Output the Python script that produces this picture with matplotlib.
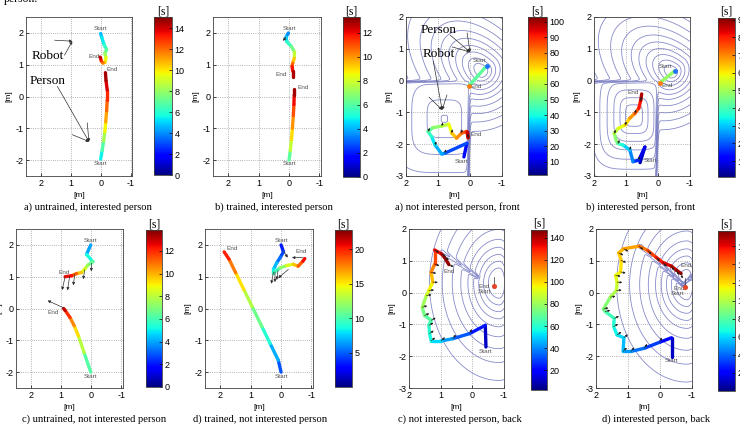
"""
Robot and person trajectories from the approach experiments, coloured by time.

Left block: the learned approach behaviour (untrained vs. trained) for an
interested and a not interested person. Right block: the same scenario seen
from the front and from the back, with the social cost field drawn as contours.
"""

import matplotlib.pyplot as plt
import numpy as np
from matplotlib.cm import ScalarMappable
from matplotlib.collections import LineCollection
from matplotlib.colors import Normalize

plt.rcParams.update({
    "font.family": "sans-serif",
    "font.sans-serif": ["Liberation Sans", "DejaVu Sans"],
    "font.serif": ["Liberation Serif", "DejaVu Serif"],
    "font.size": 6.5,
    "axes.unicode_minus": False,
    "axes.linewidth": 0.6,
    "axes.edgecolor": "#404040",
    "xtick.direction": "in",
    "ytick.direction": "in",
    "xtick.major.size": 2,
    "ytick.major.size": 2,
    "xtick.major.width": 0.5,
    "ytick.major.width": 0.5,
    "xtick.labelsize": 6.5,
    "ytick.labelsize": 6.5,
})

FIG_W, FIG_H = 740, 426

# ---- a) untrained, interested person
UI_ROBOT_X = [0.00, -0.04, -0.12, -0.20, -0.14, -0.18, -0.15, -0.08, -0.02, 0.00, 0.02]
UI_ROBOT_Y = [1.98, 1.85, 1.62, 1.48, 1.35, 1.22, 1.08, 1.05, 1.12, 1.20, 1.24]
UI_ROBOT_T = [4.5, 5.0, 5.8, 6.5, 7.5, 9.0, 10.0, 11.0, 12.5, 13.5, 14.5]
UI_PERSON_X = [0.00, -0.05, -0.10, -0.14, -0.17, -0.20, -0.22, -0.22, -0.18, -0.16]
UI_PERSON_Y = [-1.97, -1.70, -1.40, -1.10, -0.80, -0.45, -0.10, 0.20, 0.50, 0.75]
UI_PERSON_T = [5.0, 6.0, 7.5, 9.0, 10.5, 11.5, 12.5, 13.5, 14.2, 14.8]

# ---- b) trained, interested person
TI_ROBOT_X = [0.02, 0.10, 0.07, -0.08, -0.18, -0.17, -0.12, -0.10, -0.12, -0.12]
TI_ROBOT_Y = [2.00, 1.87, 1.72, 1.57, 1.40, 1.20, 1.05, 0.95, 0.80, 0.62]
TI_ROBOT_T = [3.0, 4.0, 5.0, 6.0, 7.0, 8.5, 10.0, 11.0, 12.5, 13.0]
TI_PERSON_X = [0.00, -0.04, -0.08, -0.11, -0.14, -0.16, -0.17, -0.17]
TI_PERSON_Y = [-2.00, -1.70, -1.35, -1.00, -0.60, -0.25, 0.05, 0.25]
TI_PERSON_T = [5.2, 7.0, 8.5, 9.5, 10.5, 11.5, 12.5, 13.2]

# ---- c) untrained, not interested person
UN_ROBOT_X = [0.02, 0.16, -0.05, 0.11, 0.20, 0.33, 0.49, 0.65, 0.87]
UN_ROBOT_Y = [2.00, 1.70, 1.47, 1.37, 1.26, 1.13, 1.10, 1.03, 1.00]
UN_ROBOT_T = [3.5, 4.5, 6.0, 7.0, 8.0, 9.0, 10.5, 11.8, 13.0]
UN_PERSON_X = [0.02, 0.24, 0.43, 0.57, 0.71, 0.87, 0.92]
UN_PERSON_Y = [-2.00, -1.39, -0.86, -0.54, -0.28, -0.06, 0.00]
UN_PERSON_T = [5.5, 7.0, 8.8, 10.0, 11.3, 12.5, 13.5]
UN_ARROW_X = [0.87, 0.72, 0.55, 0.22, 0.00, 0.92]
UN_ARROW_Y = [1.00, 1.02, 1.08, 1.22, 1.42, 0.02]
UN_ARROW_DX = [0.10, 0.07, 0.05, 0.05, 0.00, 0.53]
UN_ARROW_DY = [-0.42, -0.45, -0.35, -0.30, -0.25, 0.23]

# ---- d) trained, not interested person
TN_ROBOT_X = [0.00, -0.08, 0.03, 0.14, 0.25, 0.25, 0.03, -0.18, -0.40, -0.56, -0.72, -0.78]
TN_ROBOT_Y = [2.00, 1.78, 1.60, 1.44, 1.23, 1.12, 1.28, 1.35, 1.39, 1.33, 1.49, 1.57]
TN_ROBOT_T = [3.0, 4.0, 5.0, 6.0, 8.0, 8.5, 11.0, 13.0, 15.0, 17.0, 20.0, 21.0]
TN_PERSON_X = [0.00, 0.09, 0.36, 0.63, 0.95, 1.22, 1.49, 1.71, 1.87]
TN_PERSON_Y = [-2.00, -1.63, -1.10, -0.57, 0.06, 0.59, 1.12, 1.55, 1.78]
TN_PERSON_T = [4.0, 5.5, 8.0, 10.0, 12.0, 14.0, 16.5, 19.0, 21.0]
TN_ARROW_X = [0.25, 0.20, 0.10, -0.24, -0.72, -0.08]
TN_ARROW_Y = [1.15, 1.15, 1.20, 1.23, 1.60, 1.81]
TN_ARROW_DX = [0.07, 0.00, 0.04, 0.33, 0.36, -0.14]
TN_ARROW_DY = [-0.37, -0.32, -0.30, -0.27, 0.00, -0.21]

# ---- a) not interested person, front
NF_ROBOT_X = [0.19, 0.10, 0.78, 0.88, 1.09, 1.20, 1.31, 1.16, 0.88, 0.66, 0.57, 0.42, 0.26, 0.10, 0.06, 0.07]
NF_ROBOT_Y = [-2.40, -1.97, -2.28, -2.31, -2.03, -1.76, -1.60, -1.48, -1.43, -1.37, -1.65, -1.81, -1.65, -1.60, -1.80, -1.63]
NF_ROBOT_T = [12, 18, 25, 28, 35, 40, 45, 52, 57, 63, 70, 75, 82, 88, 95, 100]
NF_PERSON_X = [-0.52, 0.04]
NF_PERSON_Y = [0.46, -0.17]
NF_PERSON_T = [42, 55]

# ---- b) interested person, front
IF_ROBOT_X = [0.56, 0.41, 0.60, 0.78, 0.88, 1.09, 1.25, 1.30, 1.37, 1.24, 1.03, 0.88, 0.72, 0.60, 0.54, 0.51]
IF_ROBOT_Y = [-2.58, -2.09, -2.50, -2.55, -2.18, -2.03, -1.98, -1.90, -1.66, -1.50, -1.40, -1.18, -1.03, -0.87, -0.62, -0.42]
IF_ROBOT_T = [3, 8, 12, 20, 28, 33, 40, 45, 50, 55, 60, 65, 72, 78, 84, 90]
IF_PERSON_X = [-0.53, -0.06]
IF_PERSON_Y = [0.31, -0.07]
IF_PERSON_T = [45, 52]

# ---- c) not interested person, back
NB_ROBOT_X = [-0.43, -0.41, 0.09, 0.62, 0.98, 1.30, 1.35, 1.37, 1.30, 1.51, 1.58, 1.45, 1.37, 1.25, 1.30, 1.19, 1.19, 0.98, 0.88, 0.74]
NB_ROBOT_Y = [-1.71, -1.03, -1.29, -1.45, -1.52, -1.52, -1.29, -1.03, -0.87, -0.72, -0.46, -0.09, 0.07, 0.33, 0.64, 0.90, 1.34, 1.22, 1.11, 0.88]
NB_ROBOT_T = [3, 18, 28, 38, 47, 55, 58, 62, 66, 70, 76, 86, 92, 100, 110, 118, 128, 136, 141, 146]
NB_PERSON = (-0.69, 0.22)

# ---- d) interested person, back
IB_ROBOT_X = [-0.36, -0.36, 0.01, 0.49, 0.91, 1.15, 1.13, 1.34, 1.45, 1.43, 1.71, 1.77, 1.55, 1.36, 1.34,
              1.39, 1.23, 1.21, 1.29, 1.13, 0.65, 0.38, 0.12, -0.10, -0.36, -0.52, -0.66]
IB_ROBOT_Y = [-2.01, -1.42, -1.56, -1.75, -1.85, -1.85, -1.42, -1.33, -1.07, -0.81, -0.60, -0.52, -0.14, 0.07, 0.33,
              0.54, 0.65, 1.01, 1.25, 1.38, 1.46, 1.32, 1.11, 0.94, 0.83, 0.70, 0.60]
IB_ROBOT_T = [3, 18, 28, 38, 46, 52, 58, 62, 67, 72, 80, 85, 95, 102, 108,
              112, 116, 120, 125, 128, 133, 145, 152, 160, 166, 170, 174]
IB_PERSON = (-0.77, 0.18)

# social cost field (contours) for the front/back views
FRONT_LEVELS = [0.3, 0.5, 0.72, 0.96, 1.22, 1.5, 1.85, 2.25, 2.7, 3.2]
BACK_LEVELS = [0.38, 0.55, 0.72, 0.9, 1.1, 1.35, 1.65, 2.0, 2.45]
FIELD_NF = {"center": (-0.38, 0.28), "heading": 45, "front": 1.05, "back": 0.55, "side": 0.62,
            "region": (0.8, -1.2, 1.0, 1.1), "base": 0.45, "slope": 0.5}
FIELD_IF = {"center": (-0.45, 0.25), "heading": 40, "front": 1.0, "back": 0.5, "side": 0.6,
            "region": (0.75, -1.1, 1.05, 1.35), "base": 0.0, "slope": 1.2}
FIELD_NB = {"center": (-0.85, 0.30), "heading": 0, "front": 0.9, "back": 0.45, "side": 1.25,
            "ridges": [(0.95, 1.30, -0.15, 0.50)]}
FIELD_IB = {"center": (-0.85, 0.25), "heading": 0, "front": 0.9, "back": 0.45, "side": 1.25,
            "ridges": [(0.60, 1.45, -0.72, 0.25), (-0.72, 0.25, -1.05, 0.55)]}

CMAP = "jet"
TRACK_LW = 2.4
CONTOUR_COLOR = "#7276c0"


def _px_rect(left, top, right, bottom):
    return [left / FIG_W, 1 - bottom / FIG_H, (right - left) / FIG_W, (bottom - top) / FIG_H]


def _sig(z):
    return 0.5 * (1 + np.tanh(z / 2))


def _field(spec):
    gx = np.linspace(-1.2, 2.2, 340)
    gy = np.linspace(-3.2, 2.2, 420)
    X, Y = np.meshgrid(gx, gy)
    px, py = spec["center"]
    ang = np.deg2rad(spec["heading"])
    dx, dy = X - px, Y - py
    u = dx * np.cos(ang) + dy * np.sin(ang)
    v = -dx * np.sin(ang) + dy * np.cos(ang)
    su = np.where(u > 0, spec["front"], spec["back"])
    r = np.hypot(u / su, v / spec["side"])
    if "region" in spec:
        # walled-off area behind the robot: values jump across the L boundary
        cx, cy, hx, hy = spec["region"]
        rr = (np.abs((X - cx) / hx) ** 4 + np.abs((Y - cy) / hy) ** 4) ** 0.25
        inner = spec["base"] + spec["slope"] * rr
        m = _sig((X - 0.02) / 0.02) * _sig((-Y - 0.02) / 0.02)
        r = (1 - m) * r + m * inner
    for x0, y0, x1, y1 in spec.get("ridges", []):
        sx, sy = x1 - x0, y1 - y0
        s = np.clip(((X - x0) * sx + (Y - y0) * sy) / (sx * sx + sy * sy), 0, 1)
        d = np.hypot(X - (x0 + s * sx), Y - (y0 + s * sy))
        r = r + 0.6 * np.exp(-(d / 0.05) ** 2)
    return X, Y, r


def _track(ax, xs, ys, ts, norm):
    pts = np.column_stack([xs, ys])
    segs = np.stack([pts[:-1], pts[1:]], axis=1)
    tmid = 0.5 * (np.asarray(ts[:-1], float) + np.asarray(ts[1:], float))
    lc = LineCollection(segs, cmap=CMAP, norm=norm, linewidths=TRACK_LW, capstyle="round", joinstyle="round")
    lc.set_array(tmid)
    ax.add_collection(lc)


def _arrows(ax, x, y, dx, dy, lw=0.5):
    for x0, y0, ddx, ddy in zip(x, y, dx, dy):
        ax.annotate("", xy=(x0 + ddx, y0 + ddy), xytext=(x0, y0),
                    arrowprops=dict(arrowstyle="-|>", lw=lw, color="#303030",
                                    mutation_scale=4, shrinkA=0, shrinkB=0))


def _heading_arrows(ax, xs, ys, target, length=0.16, skip=1):
    for x0, y0 in list(zip(xs, ys))[skip:]:
        d = np.array(target) - np.array([x0, y0])
        d = d / np.hypot(*d) * length
        ax.annotate("", xy=(x0 + d[0], y0 + d[1]), xytext=(x0, y0),
                    arrowprops=dict(arrowstyle="-|>", lw=0.45, color="#202020",
                                    mutation_scale=3, shrinkA=0, shrinkB=0))


def _label(ax, x, y, text):
    ax.text(x, y, text, fontsize=4.6, color="#555555", ha="center", va="center")


def _setup_axes(fig, rect, xlim, ylim, yticks):
    ax = fig.add_axes(_px_rect(*rect))
    ax.set_xlim(*xlim)
    ax.set_ylim(*ylim)
    ax.set_xticks([2, 1, 0, -1])
    ax.set_yticks(yticks)
    ax.grid(True, linestyle=":", color="#9a9a9a", linewidth=0.6)
    ax.set_axisbelow(True)
    ax.set_xlabel("[m]", fontsize=6, labelpad=3)
    ax.set_ylabel("[m]", fontsize=6, labelpad=2)
    ax.tick_params(pad=2)
    return ax


def _colorbar(fig, rect, norm, ticks):
    cax = fig.add_axes(_px_rect(*rect))
    cb = fig.colorbar(ScalarMappable(norm=norm, cmap=CMAP), cax=cax)
    cb.set_ticks(ticks)
    cb.ax.tick_params(labelsize=6.5, length=2, direction="in", pad=2)
    cb.outline.set_linewidth(0.6)
    cax.set_title("[s]", family="serif", fontsize=8.5, pad=2)
    return cb


def _caption(fig, xc, yc, text):
    fig.text(xc / FIG_W, 1 - yc / FIG_H, text, family="serif", fontsize=7.6, ha="center", va="center")


def main():
    fig = plt.figure(figsize=(7.4, 4.26), dpi=100)
    top, bot = (17, 176), (229, 388)
    side_ylim = (-2.5, 2.5)
    side_xlim = (2.5, -1.05)
    side_yt = [-2, -1, 0, 1, 2]
    view_xlim, view_ylim = (2, -1), (-3, 2)
    view_yt = [-3, -2, -1, 0, 1, 2]

    # ---------------- left block, top row
    norm = Normalize(0, 15.05)
    ax = _setup_axes(fig, (26, top[0], 132, top[1]), side_xlim, side_ylim, side_yt)
    _track(ax, UI_ROBOT_X, UI_ROBOT_Y, UI_ROBOT_T, norm)
    _track(ax, UI_PERSON_X, UI_PERSON_Y, UI_PERSON_T, norm)
    _label(ax, 0.0, 2.13, "Start"); _label(ax, 0.22, 1.27, "End")
    _label(ax, -0.40, 0.84, "End"); _label(ax, 0.0, -2.12, "Start")
    ax.text(1.76, 1.26, "Robot", family="serif", fontsize=9.5, ha="center", va="center")
    ax.text(1.76, 0.50, "Person", family="serif", fontsize=9.5, ha="center", va="center")
    _arrows(ax, [1.54, 1.21], [1.77, 1.30], [-0.59, -0.26], [-0.03, 0.44])
    _arrows(ax, [1.45, 0.95, 0.45], [0.32, -1.20, -0.83], [-1.06, -0.56, -0.06], [-1.74, -0.22, -0.59])
    _colorbar(fig, (154, 17, 172, 175), norm, range(0, 15, 2))
    _caption(fig, 88, 207, "a) untrained, interested person")

    norm = Normalize(0, 13.3)
    ax = _setup_axes(fig, (213, top[0], 321, top[1]), side_xlim, side_ylim, side_yt)
    _track(ax, TI_ROBOT_X, TI_ROBOT_Y, TI_ROBOT_T, norm)
    _track(ax, TI_PERSON_X, TI_PERSON_Y, TI_PERSON_T, norm)
    _arrows(ax, [0.10], [1.87], [0.10], [-0.12])
    _label(ax, 0.0, 2.13, "Start"); _label(ax, 0.25, 0.70, "End")
    _label(ax, -0.45, 0.27, "End"); _label(ax, 0.0, -2.12, "Start")
    _colorbar(fig, (343, 17, 360, 177), norm, range(0, 13, 2))
    _caption(fig, 274, 207, "b) trained, interested person")

    # ---------------- left block, bottom row
    norm = Normalize(0, 13.85)
    ax = _setup_axes(fig, (16, bot[0], 123, bot[1]), side_xlim, side_ylim, side_yt)
    _track(ax, UN_ROBOT_X, UN_ROBOT_Y, UN_ROBOT_T, norm)
    _track(ax, UN_PERSON_X, UN_PERSON_Y, UN_PERSON_T, norm)
    _arrows(ax, UN_ARROW_X, UN_ARROW_Y, UN_ARROW_DX, UN_ARROW_DY)
    _label(ax, 0.02, 2.15, "Start"); _label(ax, 0.90, 1.12, "End")
    _label(ax, 1.25, -0.12, "End"); _label(ax, 0.02, -2.13, "Start")
    _colorbar(fig, (146, 230, 162, 387), norm, range(0, 13, 2))
    _caption(fig, 94, 419, "c) untrained, not interested person")

    norm = Normalize(0, 22.8)
    ax = _setup_axes(fig, (205, bot[0], 313, bot[1]), side_xlim, side_ylim, side_yt)
    _track(ax, TN_ROBOT_X, TN_ROBOT_Y, TN_ROBOT_T, norm)
    _track(ax, TN_PERSON_X, TN_PERSON_Y, TN_PERSON_T, norm)
    _arrows(ax, TN_ARROW_X, TN_ARROW_Y, TN_ARROW_DX, TN_ARROW_DY)
    _label(ax, 0.0, 2.15, "Start"); _label(ax, -0.67, 1.78, "End")
    _label(ax, 1.60, 1.88, "End"); _label(ax, 0.0, -2.13, "Start")
    _colorbar(fig, (335, 230, 352, 387), norm, range(5, 21, 5))
    _caption(fig, 260, 419, "d) trained, not interested person")

    # ---------------- right block: front views
    views = [
        ((406, top[0], 502, top[1]), (528, 17, 547, 175), (1.5, 103), range(10, 101, 10), FIELD_NF,
         (NF_ROBOT_X, NF_ROBOT_Y, NF_ROBOT_T), (NF_PERSON_X, NF_PERSON_Y, NF_PERSON_T),
         457, 207, "a) not interested person, front"),
        ((594, top[0], 690, top[1]), (718, 18, 735, 177), (1, 91), range(10, 91, 10), FIELD_IF,
         (IF_ROBOT_X, IF_ROBOT_Y, IF_ROBOT_T), (IF_PERSON_X, IF_PERSON_Y, IF_PERSON_T),
         641, 207, "b) interested person, front"),
    ]
    front_axes = []
    for rect, crect, lim, ticks, field, robot, person, cx, cy, cap in views:
        norm = Normalize(*lim)
        ax = _setup_axes(fig, rect, view_xlim, view_ylim, view_yt)
        X, Y, Z = _field(field)
        ax.contour(X, Y, Z, levels=FRONT_LEVELS, colors=CONTOUR_COLOR, linewidths=0.6, alpha=0.85)
        _track(ax, *robot, norm)
        _track(ax, *person, norm)
        _heading_arrows(ax, robot[0][::2], robot[1][::2], (person[0][1], person[1][1] + 1.5), length=0.12)
        ax.scatter([person[0][0]], [person[1][0]], s=6, color="#1f6fff", zorder=5)
        ax.scatter([person[0][1]], [person[1][1]], s=6, color="#ff7a10", zorder=5)
        _colorbar(fig, crect, norm, ticks)
        _caption(fig, cx, cy, cap)
        front_axes.append(ax)

    ax = front_axes[0]
    _label(ax, -0.31, 0.62, "Start"); _label(ax, -0.19, -0.20, "End")
    _label(ax, -0.19, -1.71, "End"); _label(ax, 0.25, -2.55, "Start")
    ax.text(0.98, 1.6, "Person", family="serif", fontsize=9.5, ha="center", va="center")
    ax.text(0.98, 0.85, "Robot", family="serif", fontsize=9.5, ha="center", va="center")
    _arrows(ax, [0.62, 0.56, 0.09], [1.43, 1.06, 1.50], [-0.62, -0.56, -0.09], [-0.53, -0.16, -0.60])
    _arrows(ax, [1.15, 1.28, 0.72], [0.62, -0.52, -0.45], [-0.28, -0.41, 0.15], [-1.54, -0.40, -0.47])

    ax = front_axes[1]
    _label(ax, -0.22, 0.43, "Start"); _label(ax, -0.30, -0.14, "End")
    _label(ax, 0.79, -0.38, "End"); _label(ax, 0.22, -2.52, "Start")

    # ---------------- right block: back views
    views = [
        ((409, bot[0], 504, bot[1]), (531, 230, 547, 390), (2, 147), range(20, 141, 20), FIELD_NB,
         (NB_ROBOT_X, NB_ROBOT_Y, NB_ROBOT_T), NB_PERSON, 460, 419, "c) not interested person, back",
         [(0.72, 0.67, "End"), (-0.38, 0.19, "End"), (-0.38, 0.04, "Start"), (-0.43, -1.85, "Start")]),
        ((596, bot[0], 692, bot[1]), (718, 231, 735, 391), (0, 177), range(20, 161, 20), FIELD_IB,
         (IB_ROBOT_X, IB_ROBOT_Y, IB_ROBOT_T), IB_PERSON, 656, 419, "d) interested person, back",
         [(-0.82, 0.85, "End"), (-0.60, 0.13, "End"), (-0.55, -0.03, "Start"), (-0.36, -2.15, "Start")]),
    ]
    for rect, crect, lim, ticks, field, robot, person, cx, cy, cap, labels in views:
        norm = Normalize(*lim)
        ax = _setup_axes(fig, rect, view_xlim, view_ylim, view_yt)
        X, Y, Z = _field(field)
        ax.contour(X, Y, Z, levels=BACK_LEVELS, colors=CONTOUR_COLOR, linewidths=0.6, alpha=0.85)
        _track(ax, *robot, norm)
        _heading_arrows(ax, robot[0], robot[1], person, length=0.16, skip=2)
        ax.plot([person[0], person[0]], [person[1], person[1] + 0.28], color="#303030", lw=0.5)
        ax.scatter([person[0]], [person[1]], s=7, color="#e2452a", zorder=5)
        for lx, ly, txt in labels:
            _label(ax, lx, ly, txt)
        _colorbar(fig, crect, norm, ticks)
        _caption(fig, cx, cy, cap)

    fig.text(4 / FIG_W, 1 - 2 / FIG_H, "person.", family="serif", fontsize=8.5, ha="left", va="baseline")

    fig.savefig("out.png", dpi=100)
    plt.close(fig)


if __name__ == "__main__":
    main()
